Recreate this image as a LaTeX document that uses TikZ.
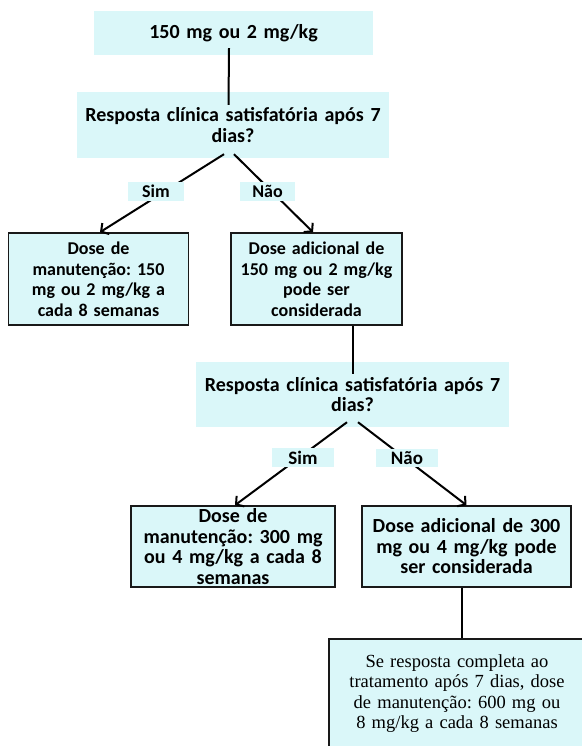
\documentclass[tikz,border=0pt]{standalone}
\usepackage{fontspec}
\setmainfont{Carlito}
\newfontfamily\timesf{Liberation Serif}
\usetikzlibrary{arrows.meta}
\definecolor{boxfill}{RGB}{218,247,249}
\frenchspacing
\begin{document}
\begin{tikzpicture}[x=1bp,y=-1bp,
  plainbox/.style={fill=boxfill, inner sep=0pt, align=center,
    font=\bfseries\fontsize{20bp}{20.5bp}\selectfont},
  framebox/.style={draw=black!90, line width=1.6bp, fill=boxfill, inner sep=0pt, align=center},
  small/.style={font=\bfseries\fontsize{18bp}{20.5bp}\selectfont},
  big/.style={font=\bfseries\fontsize{20bp}{20.5bp}\selectfont},
  lab/.style={fill=boxfill, inner sep=0pt, font=\bfseries\fontsize{18bp}{20bp}\selectfont},
  conn/.style={line width=2bp, draw=black},
  arr/.style={conn, -{Straight Barb[length=5.5bp,width=13bp]}}]
\useasboundingbox (0,0) rectangle (582,746);
\clip (0,0) rectangle (582,746);
% boxes
\node[plainbox, minimum width=279bp, minimum height=44bp, text width=279bp] (top) at (233.5,33) {150 mg ou 2 mg/kg};
\node[plainbox, minimum width=312bp, minimum height=66bp, text width=312bp] (q1) at (233,125) {Resposta clínica satisfatória após 7\\dias?};
\node[framebox, small, minimum width=180bp, minimum height=92bp, text width=180bp] (l1) at (98.5,279) {Dose de\\manutenção: 150\\mg ou 2 mg/kg a\\cada 8 semanas};
\node[framebox, small, minimum width=171bp, minimum height=92bp, text width=171bp] (r1) at (316.5,279) {Dose adicional de\\150 mg ou 2 mg/kg\\pode ser\\considerada};
\node[plainbox, minimum width=313bp, minimum height=65bp, text width=313bp] (q2) at (352.5,394.5) {Resposta clínica satisfatória após 7\\dias?};
\node[framebox, big, minimum width=204bp, minimum height=81bp, text width=204bp] (l2) at (233,546.5) {Dose de\\manutenção: 300 mg\\ou 4 mg/kg a cada 8\\semanas};
\node[framebox, big, minimum width=209bp, minimum height=81bp, text width=209bp] (r2) at (466.5,546.5) {Dose adicional de 300\\mg ou 4 mg/kg pode\\ser considerada};
\node[framebox, minimum width=256bp, minimum height=109bp, text width=256bp,
  font=\timesf\fontsize{18.5bp}{20.5bp}\selectfont] (b) at (457,693.5) {Se resposta completa ao\\tratamento após 7 dias, dose\\de manutenção: 600 mg ou\\8 mg/kg a cada 8 semanas};
% connectors
\draw[conn] ([xshift=-4.5bp,yshift=7bp]top.south) -- ([xshift=-4.5bp,yshift=-13bp]q1.north);
\draw[arr] ([xshift=-9bp,yshift=4bp]q1.south) -- ([xshift=1.5bp]l1.north);
\draw[arr] ([xshift=1bp,yshift=4bp]q1.south) -- ([xshift=-3.5bp]r1.north);
\draw[conn] (q2.north |- r1.south) -- ([yshift=-12bp]q2.north);
\draw[arr] ([xshift=-5.5bp,yshift=5bp]q2.south) -- ([xshift=2bp]l2.north);
\draw[arr] ([xshift=5.5bp,yshift=5bp]q2.south) -- (r2.north);
\draw[conn] ([xshift=-4.5bp]r2.south) -- ([xshift=-4.5bp]r2.south |- b.north);
% labels
\node[lab, minimum width=56bp, minimum height=19bp] (sim1) at (156,191.5) {Sim};
\node[lab, minimum width=55bp, minimum height=19bp] (nao1) at (267.5,191.5) {Não};
\node[lab, font=\bfseries\fontsize{19bp}{20bp}\selectfont, minimum width=62bp, minimum height=19bp] (sim2) at (303,457.5) {Sim};
\node[lab, font=\bfseries\fontsize{19bp}{20bp}\selectfont, minimum width=62bp, minimum height=18bp] (nao2) at (407,458) {Não};
\end{tikzpicture}
\end{document}
